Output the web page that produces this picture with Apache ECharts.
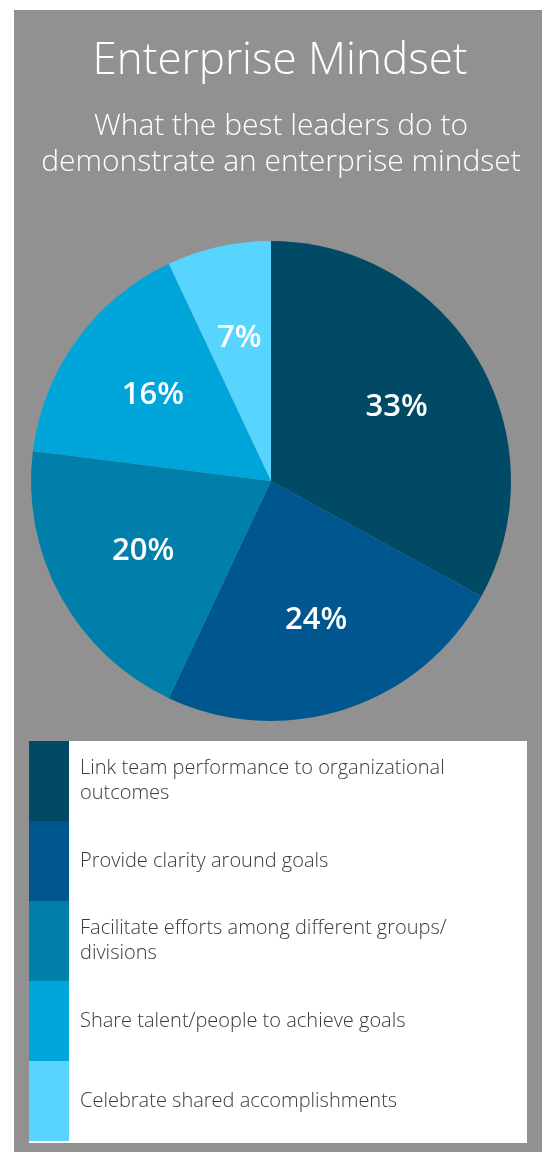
<!DOCTYPE html>
<html>
<head>
<meta charset="utf-8">
<style>
html,body{margin:0;padding:0;background:#fff;}
#c{width:544px;height:1153px;}
</style>
<script src="https://cdn.jsdelivr.net/npm/echarts@6/dist/echarts.min.js"></script>
</head>
<body>
<div id="c"></div>
<script>
var categories = [
  "Link team performance to organizational outcomes",
  "Provide clarity around goals",
  "Facilitate efforts among different groups/divisions",
  "Share talent/people to achieve goals",
  "Celebrate shared accomplishments"
];
var legendLabels = [
  "Link team performance to organizational\noutcomes",
  "Provide clarity around goals",
  "Facilitate efforts among different groups/\ndivisions",
  "Share talent/people to achieve goals",
  "Celebrate shared accomplishments"
];
var values = [33, 24, 20, 16, 7];
var colors = ["#004A66", "#00578F", "#007FAA", "#00A5DA", "#57D5FF"];
var titleText = "Enterprise Mindset";
var subtitleText = "What the best leaders do to\ndemonstrate an enterprise mindset";

var chart = echarts.init(document.getElementById('c'), null, {renderer: 'canvas'});
var mainData = categories.map(function (n, i) { return {name: n, value: values[i], itemStyle: {color: colors[i]}}; });
var labelData = categories.map(function (n, i) { return {name: n, value: values[i]}; });
var labelMap = {};
categories.forEach(function (n, i) { labelMap[n] = legendLabels[i]; });

chart.setOption({
  backgroundColor: '#ffffff',
  animation: false,
  graphic: [
    {type: 'rect', z: -10, shape: {x: 14, y: 10, width: 528, height: 1142}, style: {fill: '#919191'}},
    {type: 'rect', z: -5, shape: {x: 29, y: 741, width: 498, height: 402}, style: {fill: '#ffffff'}}
  ],
  title: [
    {text: titleText, left: 275, textAlign: 'center', top: 34,
     textStyle: {color: '#ffffff', fontFamily: 'Open Sans', fontWeight: 300, fontSize: 44}},
    {text: subtitleText, left: 276, textAlign: 'center', top: 103,
     textStyle: {color: '#ffffff', fontFamily: 'Open Sans', fontWeight: 300, fontSize: 30, lineHeight: 36}}
  ],
  legend: {
    orient: 'vertical', left: 29, top: 741, padding: 0,
    itemWidth: 40, itemHeight: 80, itemGap: 0, icon: 'rect',
    selectedMode: false,
    data: categories,
    formatter: function (n) { return labelMap[n]; },
    textStyle: {color: '#3a3a3a', fontFamily: 'Open Sans', fontWeight: 300, fontSize: 20, lineHeight: 25, padding: [5, 0, 0, 6]}
  },
  series: [
    {type: 'pie', center: [271, 481], radius: [0, 240], startAngle: 90, clockwise: true,
     data: mainData, label: {show: false}, labelLine: {show: false}, silent: true,
     itemStyle: {borderWidth: 0}},
    {type: 'pie', center: [271, 481], radius: [0, 286], startAngle: 90, clockwise: true,
     data: labelData, silent: true, legendHoverLink: false,
     itemStyle: {color: 'rgba(0,0,0,0)', borderWidth: 0},
     labelLine: {show: false},
     label: {show: true, position: 'inside', formatter: '{c}%', color: '#ffffff',
             fontFamily: 'Open Sans', fontWeight: 600, fontSize: 31}}
  ]
});
</script>
</body>
</html>
